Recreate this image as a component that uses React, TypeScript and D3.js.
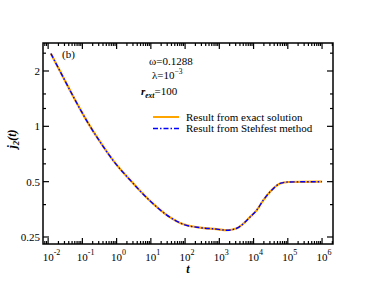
import React from "react";
import * as d3 from "d3";

// curve (both methods overlap)
const tValues = [0.012, 0.0224, 0.0439, 0.0859, 0.168, 0.33, 0.807, 2.48, 8.32, 29.2, 89.2, 274, 842, 1650, 3240, 7910, 12400, 19300, 34000, 59400, 104000, 1e6];
const jValues = [2.49, 1.99, 1.564, 1.24, 1.0, 0.822, 0.649, 0.51, 0.402, 0.329, 0.293, 0.281, 0.276, 0.272, 0.279, 0.321, 0.35, 0.397, 0.45, 0.489, 0.498, 0.5];

const xMajor = [-2, -1, 0, 1, 2, 3, 4, 5, 6];
const yMajor = [2, 1, 0.5, 0.25];
const yMajorLabels = ["2", "1", "0.5", "0.25"];
const yMinor = [2.5, 1.5, 1.25, 0.75, 0.625, 0.375];

const legendLabels = ["Result from exact solution", "Result from Stehfest method"];

const W = 374, H = 289;
const left = 43, right = 333, top = 43, bottom = 244;
const serif = "Liberation Serif, Times New Roman, serif";
const txt = { fontFamily: serif };

export default function App() {
  const x = d3.scaleLog().domain([Math.pow(10, -2.15), Math.pow(10, 6.32)]).range([left, right]);
  const y = d3.scaleLog().domain([0.229, 2.84]).range([bottom, top]);

  const pts = tValues.map((t, i) => [t, jValues[i]] as [number, number]);
  const line = d3.line<[number, number]>()
    .x(d => x(d[0]))
    .y(d => y(d[1]))
    .curve(d3.curveMonotoneX);
  const path = line(pts) || "";

  // minor x ticks 2..9 per decade
  const xMinor: number[] = [];
  for (let e = -3; e <= 6; e++) {
    for (let k = 2; k <= 9; k++) {
      const v = k * Math.pow(10, e);
      if (x(v) > left + 0.5 && x(v) < right - 0.5) xMinor.push(v);
    }
  }

  const tick = (key: string, x1: number, y1: number, x2: number, y2: number) =>
    <line key={key} x1={x1} y1={y1} x2={x2} y2={y2} stroke="black" strokeWidth={1.2} />;

  return (
    <svg width={W} height={H} style={{ position: "absolute", left: 0, top: 0 }}>
      <rect width={W} height={H} fill="white" />
      <clipPath id="plot-clip">
        <rect x={left} y={top} width={right - left} height={bottom - top} />
      </clipPath>

      {/* curves */}
      <g clipPath="url(#plot-clip)">
        <path d={path} fill="none" stroke="#FFA500" strokeWidth={2.2} />
        <path d={path} fill="none" stroke="#0000FF" strokeWidth={1.4} strokeDasharray="5,2,1.5,2" />
      </g>

      {/* ticks */}
      <g>
        {xMajor.map(e => {
          const px = x(Math.pow(10, e));
          return <g key={"xm" + e}>
            {tick("b", px, bottom, px, bottom - 6)}
            {tick("t", px, top, px, top + 6)}
          </g>;
        })}
        {xMinor.map((v, i) => {
          const px = x(v);
          return <g key={"xn" + i}>
            {tick("b", px, bottom, px, bottom - 3)}
            {tick("t", px, top, px, top + 3)}
          </g>;
        })}
        {yMajor.map(v => {
          const py = y(v);
          return <g key={"ym" + v}>
            {tick("l", left, py, left + 6, py)}
            {tick("r", right, py, right - 6, py)}
          </g>;
        })}
        {yMinor.map(v => {
          const py = y(v);
          return <g key={"yn" + v}>
            {tick("l", left, py, left + 3, py)}
            {tick("r", right, py, right - 3, py)}
          </g>;
        })}
      </g>

      {/* frame */}
      <rect x={left} y={top} width={right - left} height={bottom - top} fill="none" stroke="black" strokeWidth={1.5} />

      {/* tick labels */}
      {xMajor.map(e => {
        const px = x(Math.pow(10, e));
        return (
          <text key={"xl" + e} x={px - 5.5} y={261} fontSize={11} fill="black" style={txt}>
            10<tspan fontSize={8} dy={-6}>{e}</tspan>
          </text>
        );
      })}
      {yMajor.map((v, i) => (
        <text key={"yl" + v} x={40} y={y(v) + 4} fontSize={11} textAnchor="end" fill="black" style={txt}>
          {yMajorLabels[i]}
        </text>
      ))}

      {/* axis titles */}
      <text x={(left + right) / 2} y={273} fontSize={12} fontWeight="bold" fontStyle="italic" textAnchor="middle" style={txt}>t</text>
      <text transform={`translate(16,139) rotate(-90)`} fontSize={12} fontWeight="bold" fontStyle="italic" textAnchor="middle" style={txt}>
        j<tspan fontSize={9} dy={3}>2</tspan><tspan dy={-3}>(t)</tspan>
      </text>

      {/* annotations */}
      <text x={62} y={58} fontSize={11} style={txt}>(b)</text>
      <text x={149} y={65} fontSize={11} style={txt}>ω=0.1288</text>
      <text x={152} y={79} fontSize={11} style={txt}>λ=10<tspan fontSize={7.5} dy={-5}>−3</tspan></text>
      <text x={141} y={95} fontSize={11} style={txt}>
        <tspan fontWeight="bold" fontStyle="italic">r</tspan>
        <tspan fontSize={7.5} fontWeight="bold" fontStyle="italic" dy={3}>ext</tspan>
        <tspan dy={-3}>=100</tspan>
      </text>

      {/* legend */}
      <line x1={153} x2={179} y1={117} y2={117} stroke="#FFA500" strokeWidth={2} />
      <line x1={153} x2={179} y1={128.5} y2={128.5} stroke="#0000FF" strokeWidth={1.4} strokeDasharray="5,2,1.5,2" />
      <text x={186} y={121} fontSize={11} style={txt}>{legendLabels[0]}</text>
      <text x={186} y={132} fontSize={11} style={txt}>{legendLabels[1]}</text>
    </svg>
  );
}
